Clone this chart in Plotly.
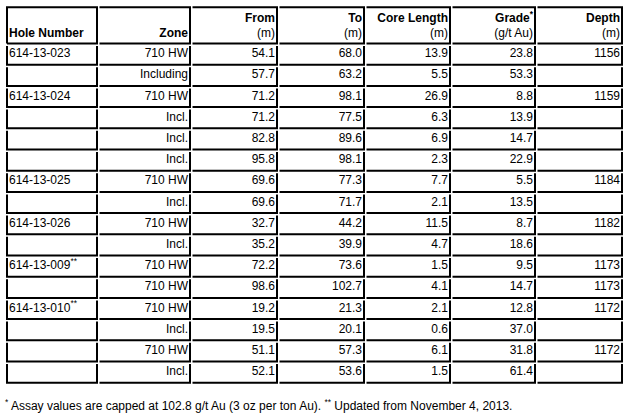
import plotly.graph_objects as go

W, H = 633, 420
FONT = "Liberation Sans, Arial, sans-serif"
INK = "#000000"

# --- table content ---------------------------------------------------------
titles = ["Hole Number", "Zone", "From", "To", "Core Length", "Grade<sup>*</sup>", "Depth"]
units = ["", "", "(m)", "(m)", "(m)", "(g/t Au)", "(m)"]
holes = ["614-13-023", "", "614-13-024", "", "", "", "614-13-025", "",
         "614-13-026", "", "614-13-009<sup>**</sup>", "",
         "614-13-010<sup>**</sup>", "", "", ""]
zones = ["710 HW", "Including", "710 HW", "Incl.", "Incl.", "Incl.", "710 HW", "Incl.",
         "710 HW", "Incl.", "710 HW", "710 HW", "710 HW", "Incl.", "710 HW", "Incl."]
from_m = [54.1, 57.7, 71.2, 71.2, 82.8, 95.8, 69.6, 69.6, 32.7, 35.2, 72.2, 98.6, 19.2, 19.5, 51.1, 52.1]
to_m = [68.0, 63.2, 98.1, 77.5, 89.6, 98.1, 77.3, 71.7, 44.2, 39.9, 73.6, 102.7, 21.3, 20.1, 57.3, 53.6]
core_len = [13.9, 5.5, 26.9, 6.3, 6.9, 2.3, 7.7, 2.1, 11.5, 4.7, 1.5, 4.1, 2.1, 0.6, 6.1, 1.5]
grade = [23.8, 53.3, 8.8, 13.9, 14.7, 22.9, 5.5, 13.5, 8.7, 18.6, 9.5, 14.7, 12.8, 37.0, 31.8, 61.4]
depth = [1156, None, 1159, None, None, None, 1184, None, 1182, None, 1173, 1173, 1172, None, 1172, None]
footnote = ("<sup>*</sup> Assay values are capped at 102.8 g/t Au (3 oz per ton Au). "
            "<sup>**</sup> Updated from November 4, 2013.")

columns = [
    holes,
    zones,
    [f"{v:.1f}" for v in from_m],
    [f"{v:.1f}" for v in to_m],
    [f"{v:.1f}" for v in core_len],
    [f"{v:.1f}" for v in grade],
    ["" if d is None else str(d) for d in depth],
]
aligns = ["left"] + ["right"] * 6

# --- layout geometry (pixels across, row units down) -----------------------
TABLE_LEFT = 7
COL_RIGHT = [97, 190, 277, 364, 450, 535, 622]
SPACING = 2.5
PAD = 2.0
ROW0_PX, ROW_PX = 43.5, 21.2
HEAD_TOP = -1.708
HEAD_LINE1, HEAD_LINE2 = -1.156, -0.425
GAP = SPACING / ROW_PX
n_rows = len(zones)

col_left = [TABLE_LEFT] + [r + SPACING for r in COL_RIGHT[:-1]]


def text_x(c):
    return col_left[c] + PAD if aligns[c] == "left" else COL_RIGHT[c] - PAD


def text_pos(c):
    return "middle right" if aligns[c] == "left" else "middle left"


def add_text(xs, ys, texts, pos):
    fig.add_trace(go.Scatter(
        x=xs, y=ys, mode="text", text=texts, textposition=pos,
        textfont={"family": FONT, "size": 12, "color": INK},
        hoverinfo="skip", cliponaxis=False, showlegend=False,
    ))


fig = go.Figure()

for c, vals in enumerate(columns):
    filled = [(i, v) for i, v in enumerate(vals) if v]  # blank cells get no text
    add_text([text_x(c)] * len(filled), [i + 0.5 for i, _ in filled],
             [v for _, v in filled], text_pos(c))

# header: bold titles, units underneath
for c in range(len(titles)):
    if units[c]:
        add_text([text_x(c)] * 2, [HEAD_LINE1, HEAD_LINE2],
                 [f"<b>{titles[c]}</b>", units[c]], text_pos(c))
    else:
        add_text([text_x(c)], [HEAD_LINE2], [f"<b>{titles[c]}</b>"], text_pos(c))

# cell borders: each cell draws its bottom and right edge, separated by cell spacing
line = {"color": INK, "width": 2}
shapes = []
row_spans = [(HEAD_TOP, 0.0)] + [(i + GAP, i + 1.0) for i in range(n_rows)]
for c in range(len(titles)):
    x0, x1 = col_left[c], COL_RIGHT[c]
    for r, (y0, y1) in enumerate(row_spans):
        pts = [(x0, y1), (x1, y1), (x1, y0)]
        if r == 0:
            pts.append((x0, y0))
            if c == 0:
                pts.append((x0, y1))
        elif c == 0:
            pts.insert(0, (x0, y0))
        path = "M " + " L ".join(f"{x},{y}" for x, y in pts)
        shapes.append({"type": "path", "xref": "x", "yref": "y", "path": path, "line": line})

fig.add_annotation(
    text=footnote,
    xref="paper", yref="paper",
    x=3 / W, y=1 - 405 / H,
    xanchor="left", yanchor="middle",
    showarrow=False,
    font={"family": FONT, "size": 12, "color": INK},
)

fig.update_layout(
    width=W,
    height=H,
    margin={"l": 0, "r": 0, "t": 0, "b": 0},
    paper_bgcolor="white",
    plot_bgcolor="white",
    shapes=shapes,
    hovermode=False,
    xaxis={"range": [0, W], "visible": False, "fixedrange": True},
    yaxis={"range": [(H - ROW0_PX) / ROW_PX, -ROW0_PX / ROW_PX], "visible": False, "fixedrange": True},
)

# the page's default body margin would push the figure 8px off the window
fig.write_html(
    "out.html",
    config={"displayModeBar": False, "staticPlot": True},
    post_script="document.body.style.margin = '0';",
)
